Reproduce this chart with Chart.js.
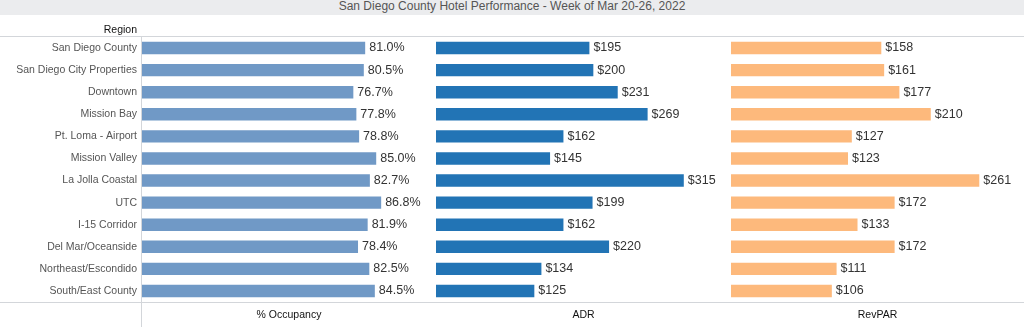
<!DOCTYPE html>
<html>
<head>
<meta charset="utf-8">
<title>San Diego County Hotel Performance</title>
<script src="https://cdn.jsdelivr.net/npm/chart.js@4.4.1/dist/chart.umd.min.js"></script>
<style>
  html, body { margin: 0; padding: 0; background: #fff; }
  body { width: 1024px; height: 327px; position: relative; overflow: hidden; font-family: "Liberation Sans", Arial, sans-serif; }
  .title-band {
    position: absolute; left: 0; top: 0; width: 1024px; height: 15px;
    background: #ebecee; color: #555; font-size: 12px; line-height: 13px;
    text-align: center; z-index: 2; overflow: hidden;
  }
  .panel { position: absolute; top: 0; height: 327px; }
</style>
</head>
<body>
<div class="title-band">San Diego County Hotel Performance - Week of Mar 20-26, 2022</div>
<div class="panel" style="left:0;width:436px"><canvas id="occChart"></canvas></div>
<div class="panel" style="left:436px;width:295px"><canvas id="adrChart"></canvas></div>
<div class="panel" style="left:731px;width:293px"><canvas id="revparChart"></canvas></div>

<script>
// Weekly hotel metrics by region
const regions = [
  'San Diego County', 'San Diego City Properties', 'Downtown', 'Mission Bay',
  'Pt. Loma - Airport', 'Mission Valley', 'La Jolla Coastal', 'UTC',
  'I-15 Corridor', 'Del Mar/Oceanside', 'Northeast/Escondido', 'South/East County'
];
const occupancy = [81.0, 80.5, 76.7, 77.8, 78.8, 85.0, 82.7, 86.8, 81.9, 78.4, 82.5, 84.5];
const adr = [195, 200, 231, 269, 162, 145, 315, 199, 162, 220, 134, 125];
const revpar = [158, 161, 177, 210, 127, 123, 261, 172, 133, 172, 111, 106];

const FONT = '"Liberation Sans", Arial, sans-serif';
const LINE_COLOR = '#d3d6da';

// value labels at the end of each bar
const barLabels = {
  id: 'barLabels',
  afterDatasetsDraw(chart, args, opts) {
    const ctx = chart.ctx;
    const meta = chart.getDatasetMeta(0);
    const data = chart.data.datasets[0].data;
    ctx.save();
    ctx.font = '12.5px ' + FONT;
    ctx.fillStyle = '#333';
    ctx.textAlign = 'left';
    ctx.textBaseline = 'middle';
    meta.data.forEach((bar, i) => {
      ctx.fillText(opts.format(data[i]), bar.x + 4, bar.y);
    });
    ctx.restore();
  }
};

// frame lines: top/bottom rules and the panel separator
const frameLines = {
  id: 'frameLines',
  beforeDatasetsDraw(chart, args, opts) {
    const { ctx, chartArea, width, height } = chart;
    ctx.save();
    ctx.strokeStyle = LINE_COLOR;
    ctx.lineWidth = 1;
    ctx.beginPath();
    ctx.moveTo(0, chartArea.top - 0.5);
    ctx.lineTo(width, chartArea.top - 0.5);
    ctx.moveTo(0, chartArea.bottom + 0.5);
    ctx.lineTo(width, chartArea.bottom + 0.5);
    ctx.moveTo(chartArea.left - 0.5, chartArea.top);
    ctx.lineTo(chartArea.left - 0.5, height);
    ctx.stroke();
    if (opts.header) {
      ctx.font = '10.5px ' + FONT;
      ctx.fillStyle = '#111';
      ctx.textAlign = 'right';
      ctx.textBaseline = 'middle';
      ctx.fillText(opts.header, chartArea.left - 5, chartArea.top - 7);
    }
    ctx.restore();
  }
};

function makePanel(canvasId, values, color, max, axisTitle, format, showRegions) {
  return new Chart(document.getElementById(canvasId), {
    type: 'bar',
    data: {
      labels: regions,
      datasets: [{
        data: values,
        backgroundColor: color,
        borderWidth: 0,
        categoryPercentage: 1,
        barPercentage: 0.56
      }]
    },
    options: {
      indexAxis: 'y',
      responsive: true,
      maintainAspectRatio: false,
      animation: false,
      layout: { padding: { top: 37, right: 0, left: 0, bottom: 0 } },
      scales: {
        x: {
          min: 0,
          max: max,
          grid: { display: false },
          border: { display: false },
          ticks: { display: false },
          title: {
            display: true,
            text: axisTitle,
            color: '#111',
            font: { family: FONT, size: 10.5 },
            padding: { top: 0, bottom: 6 }
          },
          afterFit(scale) { scale.height = 25; }
        },
        y: {
          display: showRegions,
          grid: { display: false, drawTicks: false },
          border: { display: false },
          ticks: {
            color: '#555',
            padding: 5,
            font: { family: FONT, size: 10.5 }
          },
          afterFit(scale) { if (showRegions) scale.width = 142; }
        }
      },
      plugins: {
        legend: { display: false },
        tooltip: { enabled: false },
        barLabels: { format: format },
        frameLines: { header: showRegions ? 'Region' : '' }
      }
    },
    plugins: [frameLines, barLabels]
  });
}

document.addEventListener('DOMContentLoaded', function() {
  makePanel('occChart', occupancy, '#7099c6', 106.7, '% Occupancy', v => v.toFixed(1) + '%', true);
  makePanel('adrChart', adr, '#2274b5', 375, 'ADR', v => '$' + v, false);
  makePanel('revparChart', revpar, '#fdb97c', 308, 'RevPAR', v => '$' + v, false);
});
</script>
</body>
</html>
